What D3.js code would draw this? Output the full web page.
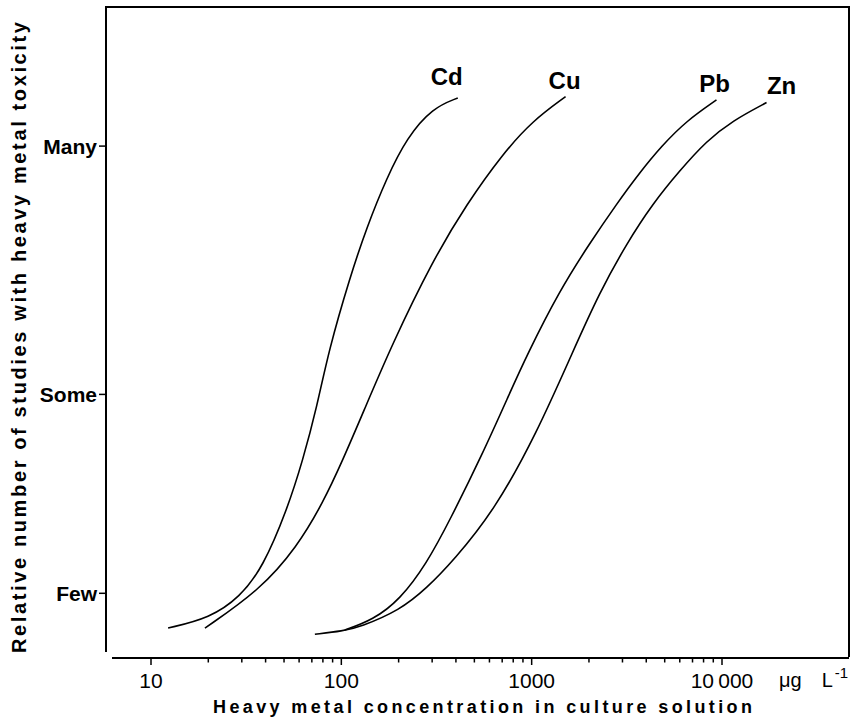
<!DOCTYPE html>
<html>
<head>
<meta charset="utf-8">
<script src="https://cdn.jsdelivr.net/npm/d3@7"></script>
<style>
  body { margin: 0; background: #fff; }
  text { font-family: "Liberation Sans", Arial, sans-serif; fill: #000; }
</style>
</head>
<body>
<svg class="tx-chart"></svg>
<script>
// curves: [concentration in ug/L, relative number of studies 0-100]
let cdValues = [[12.3, 4.45], [20.4, 6.0], [29.3, 9.2], [38.7, 13.8], [51.8, 22.6], [62.8, 30.3], [74.3, 38.4],
  [85.9, 47.2], [110.9, 58.4], [136, 66.1], [173, 73.7], [221, 79.9], [302, 84.5], [409, 86.0]];
let cuValues = [[19.2, 4.45], [37.3, 10.3], [58.4, 16.9], [80.0, 23.7], [101.8, 30.3], [129.7, 37.5], [184, 48.0],
  [302, 61.0], [456, 69.7], [704, 77.4], [1012, 82.5], [1507, 86.2]];
let pbValues = [[104.3, 4.15], [146.3, 5.7], [203, 8.8], [281, 14.4], [371, 21.0], [553, 31.3], [767, 40.6],
  [942, 46.4], [1403, 56.4], [2014, 63.6], [2794, 69.7], [3690, 74.5], [4810, 78.6], [6516, 82.5], [9354, 85.7]];
let znValues = [[72.6, 3.5], [101.8, 4.0], [125, 4.6], [203, 7.2], [281, 10.6], [390, 14.9], [639, 22.6],
  [1062, 34.4], [1641, 46.9], [2275, 56.1], [3155, 63.6], [4315, 69.7], [5984, 74.8], [8299, 79.4],
  [11350, 82.5], [17140, 85.3]];

let seriesNames = ['Cd', 'Cu', 'Pb', 'Zn'];
let seriesValues = [cdValues, cuValues, pbValues, znValues];

let yTickValues = [9.8, 40.4, 78.6];
let yTickLabels = ['Few', 'Some', 'Many'];
let xMajorTicks = [10, 100, 1000, 10000];
let xTickLabels = ['10', '100', '1000', '10\u2009000'];

let xTitle = 'Heavy metal concentration in culture solution';
let yTitle = 'Relative number of studies with heavy metal toxicity';

let margin = {top: 7, right: 4, bottom: 65, left: 106},
  width = 853 - margin.left - margin.right,
  height = 722 - margin.top - margin.bottom;

let svg = d3.select('.tx-chart')
  .attr('width', 853)
  .attr('height', 722)
  .append('g')
  .attr('transform', 'translate(' + margin.left + ',' + margin.top + ')');

let x = d3.scaleLog()
  .domain([10, 10000])
  .range([45, 616]);

let y = d3.scaleLinear()
  .domain([0, 100])
  .range([height, 0]);

// frame: left, top, right
svg.append('path')
  .attr('d', 'M0,' + (height - 5) + 'V0H' + width + 'V' + height)
  .attr('fill', 'none')
  .attr('stroke', '#000')
  .attr('stroke-width', 2);

// bottom axis with decade and minor ticks
let minorTicks = [];
xMajorTicks.slice(0, -1).forEach(function (d) {
  for (let k = 2; k < 10; k++) minorTicks.push(d * k);
});

svg.append('line')
  .attr('x1', 6).attr('x2', width)
  .attr('y1', height + 1).attr('y2', height + 1)
  .attr('stroke', '#000').attr('stroke-width', 2);

svg.append('g')
  .selectAll('line')
  .data(xMajorTicks.map(d => ({v: d, len: 7})).concat(minorTicks.map(d => ({v: d, len: 4.5}))))
  .enter().append('line')
  .attr('x1', d => x(d.v)).attr('x2', d => x(d.v))
  .attr('y1', height + 1).attr('y2', d => height + 1 + d.len)
  .attr('stroke', '#000').attr('stroke-width', 1.5);

svg.append('g')
  .selectAll('text')
  .data(xMajorTicks)
  .enter().append('text')
  .attr('x', d => x(d))
  .attr('y', height + 31)
  .attr('text-anchor', 'middle')
  .attr('font-size', 21)
  .text((d, i) => xTickLabels[i]);

// unit
let unit = svg.append('text')
  .attr('x', x(10000) + 57)
  .attr('y', height + 30)
  .attr('font-size', 20);
unit.append('tspan').text('\u03bcg');
unit.append('tspan').attr('dx', 20).text('L');
unit.append('tspan').attr('dx', 2).attr('dy', -9).attr('font-size', 15).text('-1');

// left ticks
svg.append('g')
  .selectAll('line')
  .data(yTickValues)
  .enter().append('line')
  .attr('x1', -7).attr('x2', 0)
  .attr('y1', d => y(d)).attr('y2', d => y(d))
  .attr('stroke', '#000').attr('stroke-width', 1.5);

svg.append('g')
  .selectAll('text')
  .data(yTickValues)
  .enter().append('text')
  .attr('x', -9)
  .attr('y', d => y(d))
  .attr('dy', '0.36em')
  .attr('text-anchor', 'end')
  .attr('font-size', 21)
  .attr('font-weight', 'bold')
  .text((d, i) => yTickLabels[i]);

// curves, B-spline smoothed through the read points
let line = d3.line()
  .x(d => x(d[0]))
  .y(d => y(d[1]))
  .curve(d3.curveBasis);

svg.append('g')
  .selectAll('path')
  .data(seriesValues)
  .enter().append('path')
  .attr('d', line)
  .attr('fill', 'none')
  .attr('stroke', '#000')
  .attr('stroke-width', 1.6);

// labels near the upper end of each curve
let labelShift = {Cd: [-11, -13], Cu: [-1, -8], Pb: [-2, -8], Zn: [15, -9]};
svg.append('g')
  .selectAll('text')
  .data(seriesNames)
  .enter().append('text')
  .attr('x', (d, i) => x(seriesValues[i][seriesValues[i].length - 1][0]) + labelShift[d][0])
  .attr('y', (d, i) => y(seriesValues[i][seriesValues[i].length - 1][1]) + labelShift[d][1])
  .attr('text-anchor', 'middle')
  .attr('font-size', 24)
  .attr('font-weight', 'bold')
  .text(d => d);

// axis titles
svg.append('text')
  .attr('x', 107)
  .attr('y', height + 56)
  .attr('font-size', 18)
  .attr('font-weight', 'bold')
  .attr('textLength', 539)
  .attr('lengthAdjust', 'spacing')
  .text(xTitle);

svg.append('text')
  .attr('transform', 'translate(' + (-80) + ',' + (height - 4) + ') rotate(-90)')
  .attr('font-size', 20)
  .attr('font-weight', 'bold')
  .attr('textLength', 631)
  .attr('lengthAdjust', 'spacing')
  .text(yTitle);
</script>
</body>
</html>
